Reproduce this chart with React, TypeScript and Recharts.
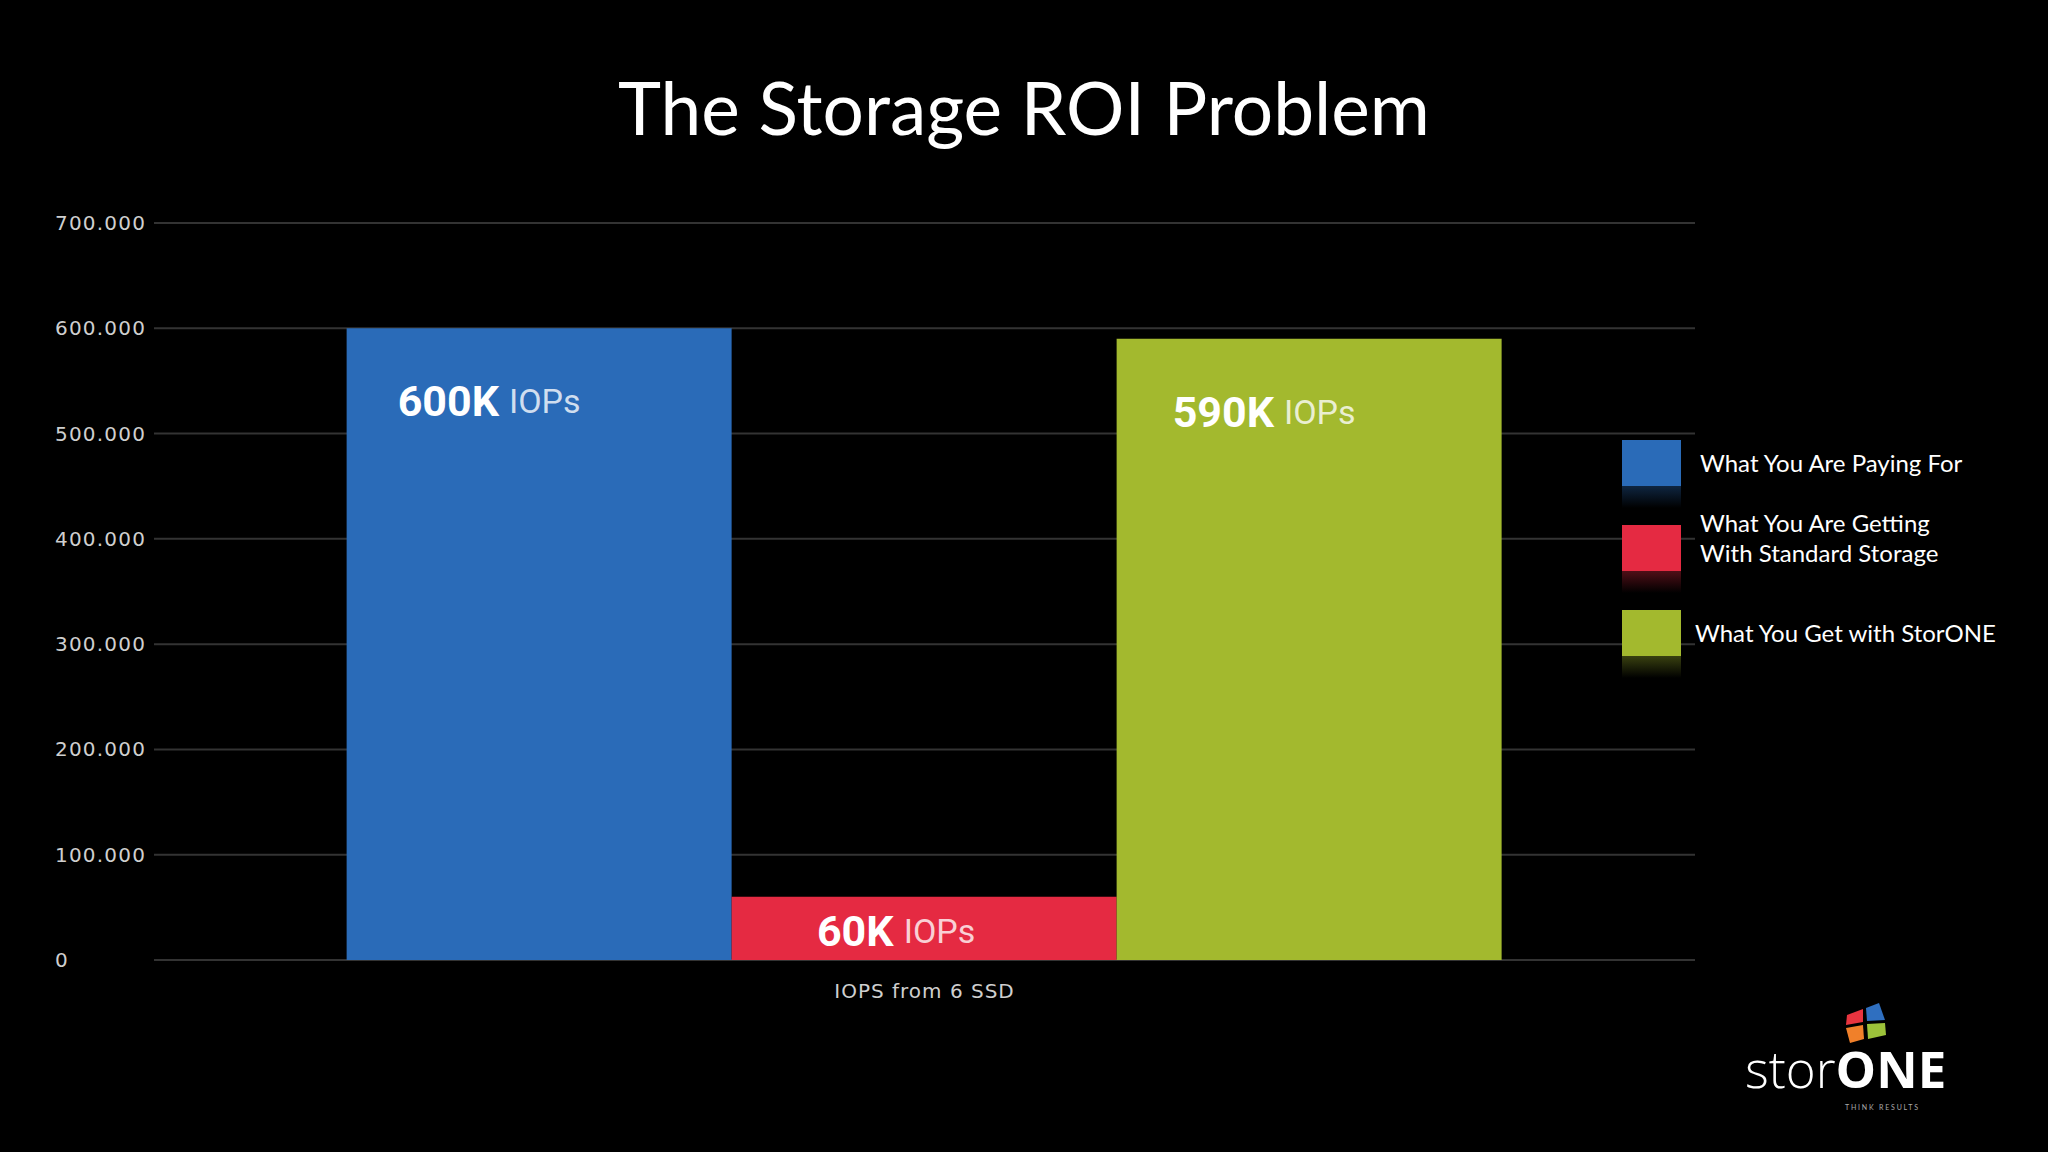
import React from 'react';
import { BarChart, Bar, XAxis, YAxis, CartesianGrid, Legend, LabelList } from 'recharts';

// values
const categories = ['IOPS from 6 SSD'];
const payingFor = [600000];
const standardStorage = [60000];
const withStorOne = [590000];
const yTicks = [0, 100000, 200000, 300000, 400000, 500000, 600000, 700000];
const seriesNames = [
  'What You Are Paying For',
  'What You Are Getting\nWith Standard Storage',
  'What You Get with StorONE',
];

const COLORS = ['#2a6bb8', '#e52a42', '#a3b92e'];

const data = categories.map((name, i) => ({
  name,
  paying: payingFor[i],
  standard: standardStorage[i],
  storone: withStorOne[i],
}));

const formatTick = (v: number) => String(v).replace(/\B(?=(\d{3})+(?!\d))/g, '.');

const YTick = (props: any) => (
  <text
    x={55}
    y={props.y}
    dominantBaseline="central"
    fill="#cfcfcf"
    fontSize={20}
    letterSpacing={1.2}
    fontFamily="DejaVu Sans"
  >
    {formatTick(props.payload.value)}
  </text>
);

const makeLabel = (dx: number) => (props: any) => {
  const { x, y, width, height, value } = props;
  const cx = x + width / 2 + dx;
  const cy = height > 150 ? y + 73 : y + height / 2 + 3;
  return (
    <text x={cx} y={cy} textAnchor="middle" dominantBaseline="central" fontFamily="Roboto, sans-serif">
      <tspan fontWeight={700} fontSize={43} fill="#ffffff">{`${value / 1000}K`}</tspan>
      <tspan dx={10} fontWeight={400} fontSize={34} fill="rgba(255,255,255,0.78)">IOPs</tspan>
    </text>
  );
};

const renderLegend = (props: any) => {
  const items = [...props.payload].sort(
    (a: any, b: any) => seriesNames.indexOf(a.value) - seriesNames.indexOf(b.value)
  );
  return (
    <div>
      {items.map((entry: any, i: number) => (
        <div key={`leg-${i}`} style={{ display: 'flex', height: 85 }}>
          <div style={{ width: 59 }}>
            <div style={{ width: 59, height: 46, background: entry.color }} />
            <div
              style={{
                width: 59,
                height: 22,
                background: `linear-gradient(${entry.color}, rgba(0,0,0,0))`,
                opacity: 0.35,
              }}
            />
          </div>
          <div
            style={{
              height: 46,
              display: 'flex',
              alignItems: 'center',
              marginLeft: i === 2 ? 14 : 19,
              marginTop: entry.value.includes('\n') ? -10 : 0,
              color: '#ffffff',
              fontFamily: 'Lato, sans-serif',
              fontSize: 24,
              lineHeight: '30px',
              whiteSpace: 'pre-line',
            }}
          >
            {entry.value}
          </div>
        </div>
      ))}
    </div>
  );
};

const Logo = () => (
  <div style={{ position: 'absolute', left: 1745, top: 1001, width: 200, color: '#fff' }}>
    <svg width={48} height={44} viewBox="0 0 48 44" style={{ display: 'block', marginLeft: 96 }}>
      <polygon points="6,14 22,8 22,21 5,24" fill="#e8343f" />
      <polygon points="25,7 38,2 44,19 26,20" fill="#2f6fc0" />
      <polygon points="5,27 22,24 23,38 9,42" fill="#f0802a" />
      <polygon points="26,23 44,22 45,34 27,38" fill="#9cc23a" />
    </svg>
    <div style={{ fontFamily: "'Open Sans', sans-serif", fontSize: 51, lineHeight: '46px', whiteSpace: 'nowrap' }}>
      <span style={{ fontWeight: 300 }}>stor</span>
      <span style={{ fontWeight: 700 }}>ONE</span>
    </div>
    <div style={{ fontFamily: 'Lato, sans-serif', fontSize: 7, lineHeight: '9px', letterSpacing: 1.8, color: '#aaa', marginLeft: 100, marginTop: 12 }}>
      THINK RESULTS
    </div>
  </div>
);

export default function App() {
  return (
    <div style={{ position: 'absolute', left: 0, top: 0, width: 2048, height: 1152, background: '#000', overflow: 'hidden' }}>
      <div
        style={{
          position: 'absolute',
          left: 0,
          top: 62,
          width: 2048,
          textAlign: 'center',
          color: '#fff',
          fontFamily: 'Lato, sans-serif',
          fontSize: 73,
          lineHeight: '90px',
        }}
      >
        The Storage ROI Problem
      </div>
      <BarChart
        width={2048}
        height={1152}
        data={data}
        margin={{ top: 223, right: 353, bottom: 132, left: 54 }}
        barCategoryGap="12.5%"
        barGap={0}
      >
        <CartesianGrid vertical={false} stroke="#333" strokeWidth={2} />
        <XAxis
          dataKey="name"
          tickLine={false}
          axisLine={false}
          tickSize={0}
          tickMargin={24}
          height={60}
          tick={{ fill: '#cfcfcf', fontSize: 20, letterSpacing: 1, fontFamily: 'DejaVu Sans' }}
        />
        <YAxis
          domain={[0, 700000]}
          ticks={yTicks}
          interval={0}
          width={100}
          tickLine={false}
          axisLine={false}
          tick={<YTick />}
        />
        <Legend
          layout="horizontal"
          align="center"
          verticalAlign="middle"
          content={renderLegend}
          wrapperStyle={{ left: 1622, top: 440, width: 420 }}
        />
        <Bar dataKey="paying" name={seriesNames[0]} fill={COLORS[0]} isAnimationActive={false}>
          <LabelList dataKey="paying" content={makeLabel(-50)} />
        </Bar>
        <Bar dataKey="standard" name={seriesNames[1]} fill={COLORS[1]} isAnimationActive={false}>
          <LabelList dataKey="standard" content={makeLabel(-28)} />
        </Bar>
        <Bar dataKey="storone" name={seriesNames[2]} fill={COLORS[2]} isAnimationActive={false}>
          <LabelList dataKey="storone" content={makeLabel(-45)} />
        </Bar>
      </BarChart>
      <Logo />
    </div>
  );
}
